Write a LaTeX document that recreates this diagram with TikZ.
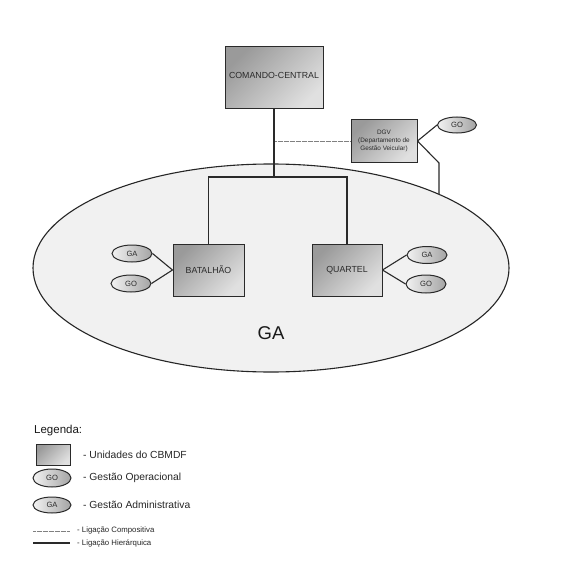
\documentclass[tikz,border=0pt]{standalone}
\usepackage{fontspec}
\setmainfont{Liberation Sans}
\usetikzlibrary{shapes.geometric}
\definecolor{linec}{HTML}{2A2A2A}
\definecolor{boxdark}{HTML}{9A9A9A}
\definecolor{boxlight}{HTML}{E0E0E0}
\definecolor{elllight}{HTML}{F2F2F2}
\definecolor{elldark}{HTML}{A4A4A4}
\definecolor{bigfill}{HTML}{F1F1F1}
\tikzset{
  unit/.style={draw=linec, line width=1pt, top color=boxdark, bottom color=boxlight, shading angle=45,
    inner sep=0pt, text=linec, font=\fontsize{8.8}{10}\selectfont},
  gest/.style={ellipse, draw=linec, line width=1pt, left color=elllight, right color=elldark,
    inner sep=0pt, text=linec, font=\fontsize{7.6}{9}\selectfont},
  hier/.style={draw=linec, line width=1.1pt},
  compos/.style={draw=gray, line width=1pt, dash pattern=on 0.6pt off 0.6pt},
  legtext/.style={anchor=west, inner sep=0pt, text=black!85, font=\fontsize{10.3}{12}\selectfont},
  legsmall/.style={anchor=west, inner sep=0pt, text=black!85, font=\fontsize{7.8}{9}\selectfont},
}
\begin{document}
\begin{tikzpicture}[x=1pt,y=-1pt]
\useasboundingbox (0,0) rectangle (567,567);
\fill[white] (0,0) rectangle (567,567);
% big ellipse
\node[ellipse, draw=black!85, line width=1.1pt, fill=bigfill, minimum width=476pt, minimum height=208pt, inner sep=0pt] (gaell) at (271,268) {};
\node[font=\fontsize{18.5}{20}\selectfont, text=black!90] (gatext) at (271,333) {GA};
% boxes
\node[unit, minimum width=98pt, minimum height=62pt] (cc) at (274,78) {\raisebox{5pt}{COMANDO-CENTRAL}};
\node[unit, minimum width=66pt, minimum height=42pt, align=center, font=\fontsize{6.4}{8}\selectfont] (dgv) at (384,141) {DGV\\(Departamento de\\Gestão Veicular)};
\node[unit, minimum width=71pt, minimum height=52pt] (bat) at (208.5,270) {BATALHÃO};
\node[unit, minimum width=70pt, minimum height=52pt] (qua) at (347,270) {QUARTEL};
% ellipses
\node[gest, minimum width=39pt, minimum height=16pt] (dgvgo) at (457,125) {GO};
\node[gest, minimum width=40pt, minimum height=17pt] (bga) at (132,253.5) {GA};
\node[gest, minimum width=40pt, minimum height=17pt] (bgo) at (131,283.5) {GO};
\node[gest, minimum width=40pt, minimum height=17pt] (qga) at (427,255) {GA};
\node[gest, minimum width=40pt, minimum height=18pt] (qgo) at (426,284) {GO};
% connectors
\coordinate (j1) at (274,177);
\coordinate (j2) at (274,141);
\coordinate (k1) at (439,163);
\coordinate (k2) at (439,194);
\draw[compos] (j2) -- (dgv.west);
\draw[hier] (cc.south) -- (j1);
\draw[hier] (bat.north) |- (j1) -| (qua.north);
\draw[hier] (dgv.east) -- (dgvgo.west);
\draw[hier] (dgv.east) -- (k1) -- (k2);
\draw[hier] (bga.east) -- (bat.west);
\draw[hier] (bgo.east) -- (bat.west);
\draw[hier] (qua.east) -- (qga.west);
\draw[hier] (qua.east) -- (qgo.west);
% legend
\node[anchor=west, inner sep=0pt, text=black!90, font=\fontsize{11.5}{13}\selectfont] (legt) at (34,431) {Legenda:};
\node[unit, minimum width=34pt, minimum height=21pt] (lbox) at (53,454.5) {};
\node[legtext] (lboxt) at (83,454.5) {- Unidades do CBMDF};
\node[gest, minimum width=38pt, minimum height=18pt] (lgo) at (52,478) {GO};
\node[legtext] (lgot) at (83,478) {- Gestão Operacional};
\node[gest, minimum width=38pt, minimum height=16pt] (lga) at (52,505) {GA};
\node[legtext] (lgat) at (83,505) {- Gestão Administrativa};
\coordinate (lc1) at (33,531);
\coordinate (lc2) at (70,531);
\draw[compos] (lc1) -- (lc2);
\node[legsmall] (lct) at (77,530) {- Ligação Compositiva};
\coordinate (lh1) at (33,543);
\coordinate (lh2) at (70,543);
\draw[hier] (lh1) -- (lh2);
\node[legsmall] (lht) at (77,543) {- Ligação Hierárquica};
\end{tikzpicture}
\end{document}
